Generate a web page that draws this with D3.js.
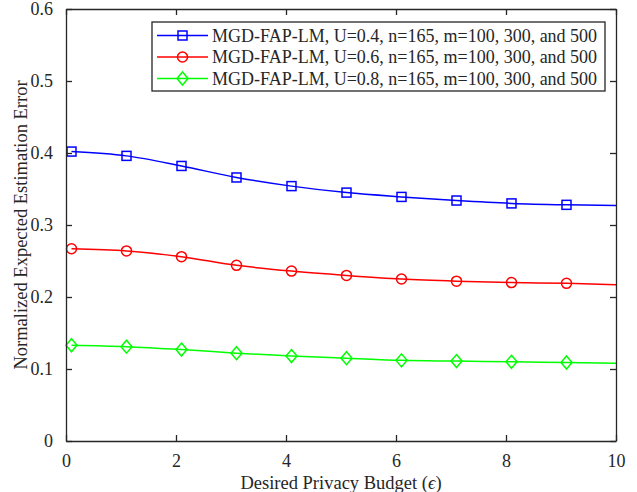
<!DOCTYPE html>
<html>
<head>
<meta charset="utf-8">
<script src="https://cdn.jsdelivr.net/npm/d3@7"></script>
<style>
  body { margin: 0; background: #fff; }
  text { font-family: "Liberation Serif", "Times New Roman", serif; fill: #262626; }
</style>
</head>
<body>
<svg id="chart" width="637" height="492"></svg>
<script>
// privacy budget values (markers on all but the last point)
var epsilons = [0.1, 1.1, 2.1, 3.1, 4.1, 5.1, 6.1, 7.1, 8.1, 9.1, 10];

var errU04 = [0.402, 0.396, 0.382, 0.366, 0.354, 0.345, 0.339, 0.334, 0.330, 0.328, 0.327];
var errU06 = [0.267, 0.264, 0.256, 0.244, 0.236, 0.230, 0.225, 0.222, 0.220, 0.219, 0.217];
var errU08 = [0.133, 0.131, 0.127, 0.122, 0.118, 0.115, 0.112, 0.111, 0.110, 0.109, 0.108];

var seriesNames = [
  "MGD-FAP-LM, U=0.4, n=165, m=100, 300, and 500",
  "MGD-FAP-LM, U=0.6, n=165, m=100, 300, and 500",
  "MGD-FAP-LM, U=0.8, n=165, m=100, 300, and 500"
];

var xTicks = [0, 2, 4, 6, 8, 10];
var yTicks = [0, 0.1, 0.2, 0.3, 0.4, 0.5, 0.6];

var plotLeft = 66, plotRight = 616, plotTop = 9, plotBottom = 441;
var axisColor = "#262626";

var svg = d3.select("#chart");

var xScale = d3.scaleLinear().domain([0, 10]).range([plotLeft, plotRight]);
var yScale = d3.scaleLinear().domain([0, 0.6]).range([plotBottom, plotTop]);

var series = [
  { name: seriesNames[0], values: errU04, color: "#0000ff", marker: "square" },
  { name: seriesNames[1], values: errU06, color: "#ff0000", marker: "circle" },
  { name: seriesNames[2], values: errU08, color: "#00ff00", marker: "diamond" }
];

// draws one marker shape centred at (x, y)
function drawMarker(g, type, x, y, color) {
  if (type == "square") {
    g.append("rect")
      .attr("x", x - 4.5).attr("y", y - 4.5)
      .attr("width", 9).attr("height", 9)
      .attr("fill", "none").attr("stroke", color).attr("stroke-width", 1.5);
  } else if (type == "circle") {
    g.append("circle")
      .attr("cx", x).attr("cy", y).attr("r", 5)
      .attr("fill", "none").attr("stroke", color).attr("stroke-width", 1.5);
  } else {
    g.append("path")
      .attr("d", "M" + x + "," + (y - 6.5) + "L" + (x + 5.5) + "," + y +
        "L" + x + "," + (y + 6.5) + "L" + (x - 5.5) + "," + y + "Z")
      .attr("fill", "none").attr("stroke", color).attr("stroke-width", 1.5);
  }
}

var line = d3
  .line()
  .x(function (d) { return xScale(d[0]); })
  .y(function (d) { return yScale(d[1]); })
  .curve(d3.curveMonotoneX);

// curves with markers
series.forEach(function (s) {
  var pts = epsilons.map(function (e, i) { return [e, s.values[i]]; });
  svg.append("path")
    .attr("d", line(pts))
    .attr("fill", "none")
    .attr("stroke", s.color)
    .attr("stroke-width", 1.5);
  var g = svg.append("g");
  pts.slice(0, pts.length - 1).forEach(function (p) {
    drawMarker(g, s.marker, xScale(p[0]), yScale(p[1]), s.color);
  });
});

// axes, ticks pointing inwards on all four sides
var axisB = d3.axisBottom(xScale).tickValues(xTicks).tickSizeInner(-6).tickSizeOuter(0).tickPadding(13)
  .tickFormat(d3.format("d"));
var axisT = d3.axisTop(xScale).tickValues(xTicks).tickSizeInner(-6).tickSizeOuter(0).tickFormat("");
var axisL = d3.axisLeft(yScale).tickValues(yTicks).tickSizeInner(-6).tickSizeOuter(0).tickPadding(13)
  .tickFormat(function (d) { return d == 0 ? "0" : d3.format(".1f")(d); });
var axisR = d3.axisRight(yScale).tickValues(yTicks).tickSizeInner(-6).tickSizeOuter(0).tickFormat("");

var gB = svg.append("g").attr("transform", "translate(0," + plotBottom + ")").call(axisB);
var gT = svg.append("g").attr("transform", "translate(0," + plotTop + ")").call(axisT);
var gL = svg.append("g").attr("transform", "translate(" + plotLeft + ",0)").call(axisL);
var gR = svg.append("g").attr("transform", "translate(" + plotRight + ",0)").call(axisR);

[gB, gT, gL, gR].forEach(function (g) {
  g.selectAll("path").attr("stroke", axisColor).attr("stroke-width", 1.3);
  g.selectAll("line").attr("stroke", axisColor).attr("stroke-width", 1.3);
  g.selectAll("text").attr("font-size", "18px").attr("fill", axisColor)
    .style("font-family", "'Liberation Serif', 'Times New Roman', serif");
});

// axis titles
var xLabel = svg.append("text")
  .attr("x", (plotLeft + plotRight) / 2)
  .attr("y", 489)
  .attr("text-anchor", "middle")
  .attr("font-size", "18.5px");
xLabel.append("tspan").text("Desired Privacy Budget (");
xLabel.append("tspan").attr("font-style", "italic").text("\u03F5");
xLabel.append("tspan").text(")");

svg.append("text")
  .attr("transform", "translate(27," + (plotTop + plotBottom) / 2 + ") rotate(-90)")
  .attr("text-anchor", "middle")
  .attr("font-size", "18.5px")
  .text("Normalized Expected Estimation Error");

// legend
var legend = svg.append("g");
legend.append("rect")
  .attr("x", 152).attr("y", 22)
  .attr("width", 453).attr("height", 69)
  .attr("fill", "#fff")
  .attr("stroke", axisColor)
  .attr("stroke-width", 1.3);

series.forEach(function (s, i) {
  var y = 35.5 + i * 21.5;
  legend.append("line")
    .attr("x1", 157).attr("x2", 208)
    .attr("y1", y).attr("y2", y)
    .attr("stroke", s.color).attr("stroke-width", 1.5);
  drawMarker(legend, s.marker, 182.5, y, s.color);
  legend.append("text")
    .attr("x", 212).attr("y", y + 6)
    .attr("font-size", "18px")
    .attr("fill", "#000")
    .text(s.name);
});
</script>
</body>
</html>
